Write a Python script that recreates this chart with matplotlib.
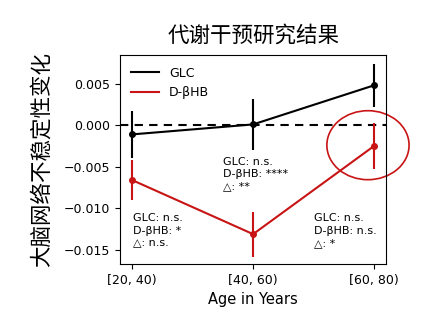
import matplotlib.pyplot as plt
from matplotlib.patches import Ellipse

plt.rcParams['font.family'] = ['DejaVu Sans', 'Noto Sans CJK SC']

age_groups = ["[20, 40)", "[40, 60)", "[60, 80)"]
glc_mean = [-0.0011, 0.0001, 0.0048]
glc_err = [0.0028, 0.0031, 0.0026]
bhb_mean = [-0.0066, -0.0131, -0.0025]
bhb_err = [0.0024, 0.0027, 0.0028]
notes = [
    "GLC: n.s.\nD-βHB: *\n△: n.s.",
    "GLC: n.s.\nD-βHB: ****\n△: **",
    "GLC: n.s.\nD-βHB: n.s.\n△: *",
]

red = "#c81414"
x = list(range(len(age_groups)))

fig = plt.figure(figsize=(4.29, 3.26), dpi=100)
ax = fig.add_axes([0.28, 0.19, 0.62, 0.64])

ax.errorbar(x, glc_mean, yerr=glc_err, color="black", marker="o", ms=4,
            lw=1.5, elinewidth=1.5, capsize=0, label="GLC")
ax.errorbar(x, bhb_mean, yerr=bhb_err, color=red, marker="o", ms=4,
            lw=1.5, elinewidth=1.5, capsize=0, label="D-βHB")
ax.axhline(0, color="black", ls="--", lw=1.5, dashes=(4, 3), zorder=0)

# significance notes
ax.text(0.01, -0.0106, notes[0], fontsize=8, va="top", ha="left", linespacing=1.3)
ax.text(0.75, -0.0038, notes[1], fontsize=8, va="top", ha="left", linespacing=1.3)
ax.text(1.50, -0.0106, notes[2], fontsize=8, va="top", ha="left", linespacing=1.3)

ax.add_patch(Ellipse((1.95, -0.0024), 0.68, 0.0083, fill=False,
                     edgecolor=red, lw=1.2, clip_on=False))

ax.set_xlim(-0.1, 2.1)
ax.set_ylim(-0.0167, 0.0084)
ax.set_xticks(x)
ax.set_xticklabels(age_groups)
ax.set_yticks([0.005, 0.0, -0.005, -0.010, -0.015])
ax.set_yticklabels(["0.005", "0.000", "\u22120.005", "\u22120.010", "\u22120.015"])
ax.tick_params(labelsize=9)
ax.set_xlabel("Age in Years", fontsize=10.5)
ax.set_ylabel("大脑网络不稳定性变化", fontsize=15.5, family=['Noto Sans CJK SC'])
ax.yaxis.set_label_coords(-0.252, 0.5)
ax.set_title("代谢干预研究结果", fontsize=15.5, family=['Noto Sans CJK SC'], pad=10)

handles = [plt.Line2D([], [], color="black", lw=1.5),
           plt.Line2D([], [], color=red, lw=1.5)]
ax.legend(handles, ["GLC", "D-βHB"], loc="upper left", fontsize=9,
          frameon=False, handlelength=2.2)

plt.savefig("out.png")
